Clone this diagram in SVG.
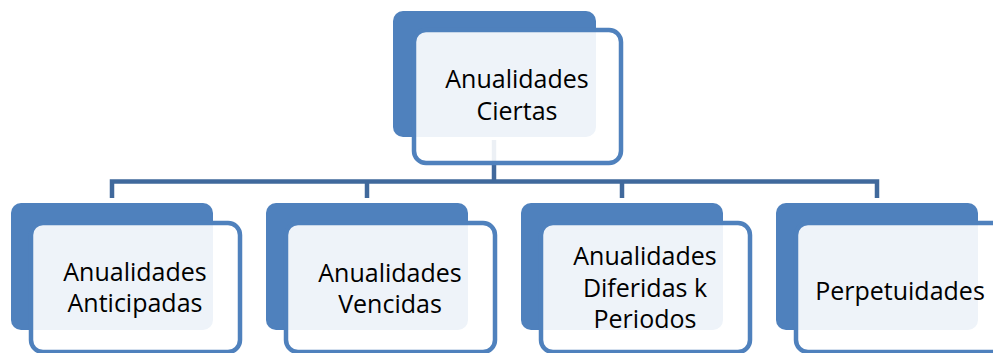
<svg xmlns="http://www.w3.org/2000/svg" width="993" height="353" viewBox="0 0 993 353">
<style>
.back{fill:#4F81BD}
.front{fill:#ffffff;fill-opacity:0.9;stroke:#4F81BD;stroke-width:4.5}
.conn{fill:none;stroke:#40699C;stroke-width:4.5}
text{font-family:"Open Sans","Noto Sans","Liberation Sans",sans-serif;font-size:25px;fill:#000;text-anchor:middle}
</style>
<rect width="993" height="353" fill="#ffffff"/>
<g id="connectors">
<path class="conn" d="M494,140 V181.5"/>
<path class="conn" d="M112,198 V181.5 H877 V198"/>
<path class="conn" d="M367,181.5 V198"/>
<path class="conn" d="M622,181.5 V198"/>
</g>
<g id="node-root">
<rect class="back" x="393" y="11" width="203" height="126" rx="10"/>
<rect class="front" x="414" y="30" width="207" height="133" rx="12"/>
<text x="517" y="88">Anualidades</text>
<text x="517" y="120">Ciertas</text>
</g>
<g id="node-anticipadas">
<rect class="back" x="11" y="203" width="202" height="127" rx="10"/>
<rect class="front" x="31" y="223" width="209" height="129" rx="12"/>
<text x="135" y="281">Anualidades</text>
<text x="135" y="312">Anticipadas</text>
</g>
<g id="node-vencidas">
<rect class="back" x="266" y="203" width="202" height="127" rx="10"/>
<rect class="front" x="286" y="223" width="209" height="129" rx="12"/>
<text x="390" y="282">Anualidades</text>
<text x="390" y="313">Vencidas</text>
</g>
<g id="node-diferidas">
<rect class="back" x="521" y="203" width="202" height="127" rx="10"/>
<rect class="front" x="541" y="223" width="209" height="129" rx="12"/>
<text x="645" y="265">Anualidades</text>
<text x="645" y="297">Diferidas k</text>
<text x="645" y="328">Periodos</text>
</g>
<g id="node-perpetuidades">
<rect class="back" x="776" y="203" width="202" height="127" rx="10"/>
<rect class="front" x="796" y="223" width="209" height="129" rx="12"/>
<text x="900" y="300">Perpetuidades</text>
</g>
</svg>
